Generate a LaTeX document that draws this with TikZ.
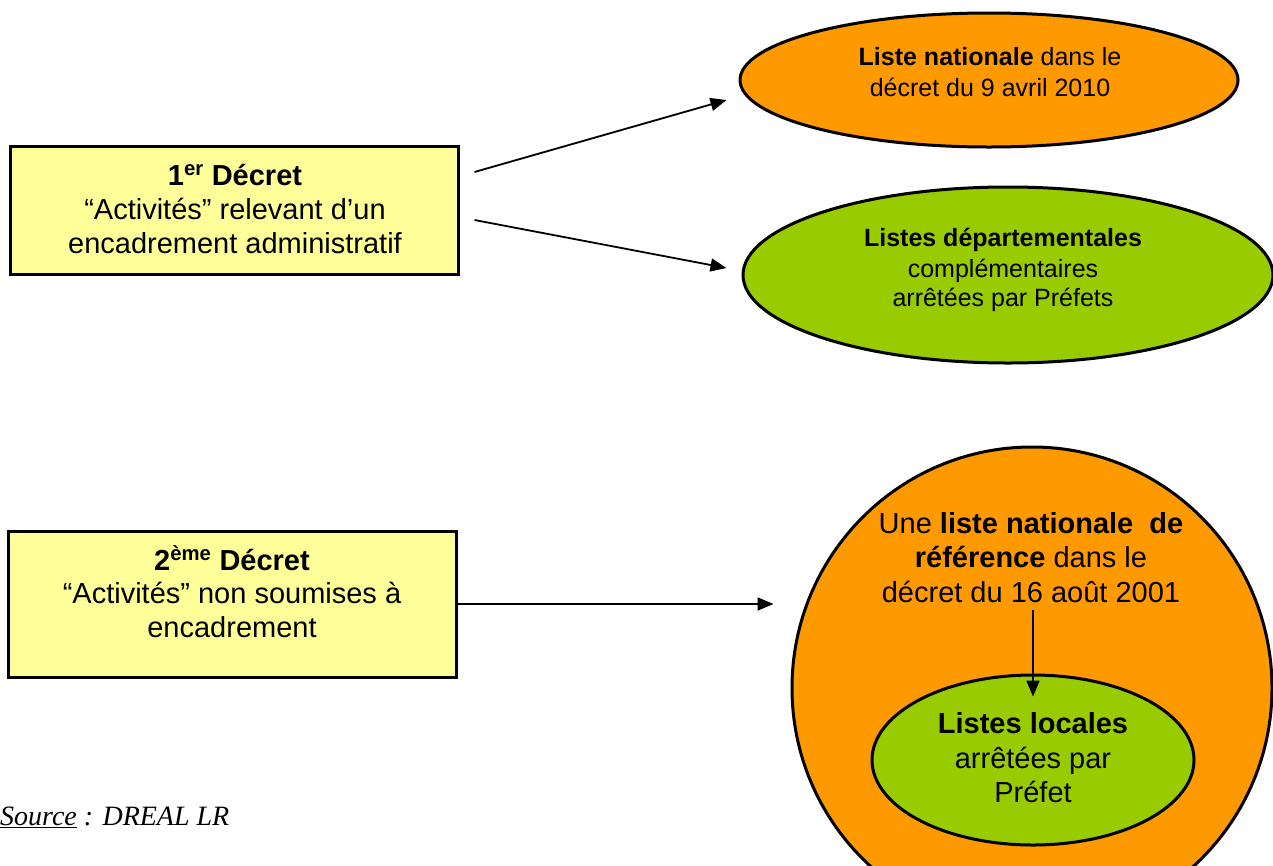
\documentclass[tikz,border=0pt]{standalone}
\usepackage{fontspec}
\setmainfont{Liberation Sans}
\newfontfamily\srcfont{Liberation Serif}
\usetikzlibrary{arrows.meta,shapes.geometric}
\definecolor{boxyellow}{HTML}{FFFF99}
\definecolor{listorange}{HTML}{FF9900}
\definecolor{listgreen}{HTML}{99CC00}
\begin{document}
\begin{tikzpicture}[x=1pt,y=-1pt,
  decbox/.style={draw=black, line width=3pt, fill=boxyellow, rectangle, inner sep=0pt},
  oval/.style={draw=black, line width=3pt, ellipse, inner sep=0pt},
  bigtxt/.style={font=\fontsize{29}{34}\selectfont, anchor=base, inner sep=0pt},
  smalltxt/.style={font=\fontsize{25}{30}\selectfont, anchor=base, inner sep=0pt},
  arr/.style={line width=1.8pt, -{Triangle[length=16pt,width=13pt]}}
]
\useasboundingbox (0,0) rectangle (1273,865);

% shapes
\node[decbox, minimum width=448pt, minimum height=128pt] (b1) at (234,210) {};
\node[decbox, minimum width=448pt, minimum height=146pt] (b2) at (232,604) {};
\node[oval, fill=listorange, minimum width=498pt, minimum height=134pt] (n1) at (989,80) {};
\node[oval, fill=listgreen, minimum width=530pt, minimum height=176pt] (n2) at (1008,275) {};
\node[oval, fill=listorange, minimum width=480pt, minimum height=482pt] (c) at (1032,688) {};
\node[oval, fill=listgreen, minimum width=322pt, minimum height=170pt] (in) at (1033,760) {};

% texts
\node[bigtxt] (b1t1) at (235,185) {\textbf{1\textsuperscript{er} Décret}};
\node[bigtxt] (b1t2) at (235,219) {“Activités” relevant d’un};
\node[bigtxt] (b1t3) at (235,253) {encadrement administratif};

\node[bigtxt] (b2t1) at (232,570) {\textbf{2\textsuperscript{ème} Décret}};
\node[bigtxt] (b2t2) at (232,603) {“Activités” non soumises à};
\node[bigtxt] (b2t3) at (232,637) {encadrement};

\node[smalltxt] (n1t1) at (990,65) {\textbf{Liste nationale} dans le};
\node[smalltxt] (n1t2) at (990,96) {décret du 9 avril 2010};

\node[smalltxt] (n2t1) at (1003,246) {\textbf{Listes départementales}};
\node[smalltxt] (n2t2) at (1003,277) {complémentaires};
\node[smalltxt] (n2t3) at (1003,306) {arrêtées par Préfets};

\node[bigtxt] (ct1) at (1031,533) {Une \textbf{liste nationale\ \ de}};
\node[bigtxt] (ct2) at (1031,567) {\textbf{référence} dans le};
\node[bigtxt] (ct3) at (1031,602) {décret du 16 août 2001};

\node[bigtxt] (it1) at (1033,733) {\textbf{Listes locales}};
\node[bigtxt] (it2) at (1033,768) {arrêtées par};
\node[bigtxt] (it3) at (1033,802) {Préfet};

\node[anchor=base west, inner sep=0pt, font=\srcfont\itshape\fontsize{28}{32}\selectfont] (src) at (0,825) {\underline{Source} : DREAL LR};

% connectors
\draw[arr] ([shift={(15,-38)}]b1.east) -- ([shift={(-12,20)}]n1.west);
\draw[arr] ([shift={(15,10)}]b1.east) -- ([shift={(-15,-7)}]n2.west);
\draw[arr] (b2.east) -- ([xshift=-17pt]b2.east -| c.west);
\coordinate (a4s) at (1033,610);
\draw[arr] (a4s) -- ([yshift=-23pt]in.north);
\end{tikzpicture}
\end{document}
